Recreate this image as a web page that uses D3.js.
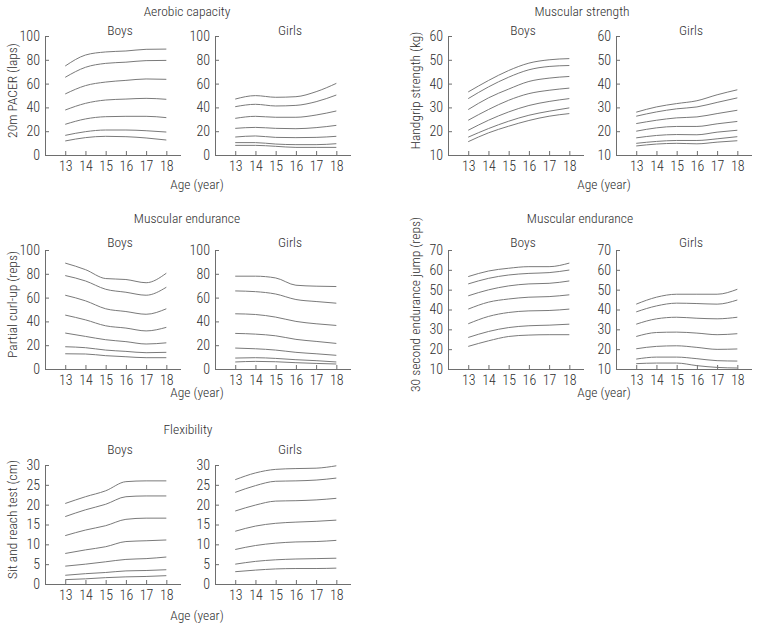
<!DOCTYPE html>
<html><head><meta charset="utf-8">
<script src="https://cdn.jsdelivr.net/npm/d3@7"></script>
<style>
body{margin:0;background:#fff;}
svg text{font-family:"Roboto Condensed","DejaVu Sans Condensed",sans-serif;font-weight:300;fill:#2e2e2e;}
</style></head><body>
<svg id="c" width="758" height="629"></svg>
<script>
// ---- data ----
const ages = [13, 14, 15, 16, 17, 18];
const xTicks = [13, 14, 15, 16, 17, 18];
const ticksAerobic = [0, 20, 40, 60, 80, 100];
const ticksStrength = [10, 20, 30, 40, 50, 60];
const ticksEndurance = [0, 20, 40, 60, 80, 100];
const ticksJump = [10, 20, 30, 40, 50, 60, 70];
const ticksFlex = [0, 5, 10, 15, 20, 25, 30];

const aerobicBoys = [
  [74.8, 84.0, 86.6, 87.4, 88.8, 89.0],
  [65.3, 73.7, 77.0, 78.0, 79.3, 79.5],
  [51.3, 58.3, 61.3, 62.7, 63.9, 63.6],
  [37.8, 43.4, 46.2, 47.0, 47.6, 46.8],
  [25.8, 30.3, 32.2, 32.5, 32.5, 31.4],
  [16.5, 19.6, 21.0, 21.0, 20.4, 19.3],
  [11.8, 14.6, 15.7, 15.4, 14.3, 12.6]
];
const aerobicGirls = [
  [47.0, 49.9, 48.5, 49.0, 53.2, 60.2],
  [40.6, 42.6, 41.2, 41.7, 44.8, 50.4],
  [30.8, 32.5, 31.7, 31.7, 33.6, 37.0],
  [22.4, 23.2, 22.4, 22.1, 23.0, 24.9],
  [15.1, 16.0, 14.8, 14.6, 14.8, 15.7],
  [10.4, 10.4, 9.2, 8.7, 8.7, 9.5],
  [8.1, 8.1, 7.3, 6.4, 6.4, 6.4]
];
const strengthBoys = [
  [36.5, 41.3, 45.5, 48.6, 50.0, 50.5],
  [33.7, 38.6, 42.7, 45.8, 47.2, 47.6],
  [29.1, 34.0, 37.7, 40.9, 42.3, 43.0],
  [24.6, 29.1, 33.0, 35.8, 37.2, 38.1],
  [20.4, 24.6, 28.1, 30.8, 32.5, 33.7],
  [17.5, 21.1, 24.2, 26.7, 28.4, 29.8],
  [15.6, 19.3, 22.1, 24.5, 26.3, 27.4]
];
const strengthGirls = [
  [28.0, 30.2, 31.6, 32.8, 35.3, 37.4],
  [26.3, 28.1, 29.4, 30.2, 32.1, 34.0],
  [23.2, 24.6, 25.6, 26.0, 27.4, 28.8],
  [20.0, 21.4, 22.0, 22.0, 23.1, 24.1],
  [17.2, 18.2, 18.6, 18.5, 19.6, 20.4],
  [14.9, 15.7, 16.1, 16.1, 16.8, 17.7],
  [13.8, 14.6, 14.9, 14.7, 15.4, 16.0]
];
const curlBoys = [
  [89.0, 83.5, 76.0, 75.2, 72.5, 80.5],
  [78.5, 74.0, 67.0, 64.5, 62.0, 68.7],
  [62.0, 57.3, 50.6, 48.3, 46.0, 50.6],
  [45.3, 41.3, 36.3, 34.4, 32.0, 35.0],
  [30.2, 27.4, 24.6, 23.0, 21.0, 22.0],
  [18.7, 17.9, 15.9, 14.8, 13.7, 14.0],
  [12.8, 12.6, 11.2, 10.3, 9.5, 9.5]
];
const curlGirls = [
  [78.0, 78.0, 76.5, 70.4, 69.6, 69.3],
  [65.6, 65.0, 63.0, 58.4, 56.7, 55.3],
  [46.4, 45.8, 43.6, 40.0, 38.0, 36.6],
  [29.9, 29.3, 27.9, 24.9, 23.2, 21.5],
  [17.6, 17.0, 15.9, 14.0, 12.8, 11.5],
  [9.2, 9.5, 8.9, 7.8, 7.0, 5.9],
  [5.9, 6.4, 6.1, 5.3, 4.7, 4.2]
];
const jumpBoys = [
  [56.6, 59.4, 60.8, 61.6, 61.6, 63.4],
  [52.9, 55.7, 57.4, 58.2, 58.6, 59.9],
  [46.9, 49.9, 51.9, 52.9, 53.2, 54.4],
  [40.2, 43.7, 45.3, 46.2, 46.5, 47.4],
  [32.8, 36.5, 38.5, 39.3, 39.5, 40.2],
  [25.9, 28.9, 30.9, 31.8, 32.1, 32.6],
  [21.4, 24.2, 26.4, 27.1, 27.3, 27.3]
];
const jumpGirls = [
  [42.7, 46.2, 47.7, 47.7, 47.7, 50.2],
  [38.8, 41.8, 43.2, 43.0, 42.7, 44.8],
  [32.6, 35.3, 36.1, 35.6, 35.3, 36.1],
  [26.4, 28.4, 28.6, 28.1, 27.3, 27.8],
  [20.2, 21.4, 21.7, 20.9, 19.9, 20.1],
  [15.0, 16.0, 16.0, 15.2, 14.2, 14.0],
  [12.7, 13.0, 13.0, 11.7, 10.8, 10.5]
];
const flexBoys = [
  [20.3, 22.0, 23.5, 25.8, 26.0, 26.0],
  [17.0, 18.7, 20.1, 22.0, 22.2, 22.2],
  [12.2, 13.6, 14.7, 16.3, 16.6, 16.6],
  [7.7, 8.6, 9.4, 10.7, 10.9, 11.1],
  [4.5, 5.0, 5.6, 6.2, 6.4, 6.8],
  [2.2, 2.6, 2.9, 3.3, 3.4, 3.6],
  [1.1, 1.3, 1.6, 1.8, 1.9, 2.1]
];
const flexGirls = [
  [26.3, 28.0, 28.9, 29.1, 29.2, 29.8],
  [23.1, 24.8, 25.9, 26.0, 26.2, 26.7],
  [18.4, 19.9, 20.9, 21.0, 21.2, 21.6],
  [13.3, 14.6, 15.3, 15.6, 15.8, 16.1],
  [8.7, 9.7, 10.3, 10.6, 10.7, 11.0],
  [5.0, 5.7, 6.1, 6.3, 6.4, 6.5],
  [3.1, 3.5, 3.8, 3.9, 3.9, 4.0]
];

// ---- layout ----
const svg = d3.select("#c");
const ROWS = [
  {top: 36, bottom: 155, subY: 35, ageY: 189},
  {top: 250, bottom: 369, subY: 247, ageY: 397},
  {top: 465, bottom: 584, subY: 454, ageY: 620}
];
const panels = [
  {data: aerobicBoys, ax: 45, row: 0, dom: [0, 100], ticks: ticksAerobic, sub: "Boys", ylab: "20m PACER (laps)"},
  {data: aerobicGirls, ax: 215, row: 0, dom: [0, 100], ticks: ticksAerobic, sub: "Girls"},
  {data: strengthBoys, ax: 448, row: 0, dom: [10, 60], ticks: ticksStrength, sub: "Boys", ylab: "Handgrip strength (kg)"},
  {data: strengthGirls, ax: 616, row: 0, dom: [10, 60], ticks: ticksStrength, sub: "Girls"},
  {data: curlBoys, ax: 45, row: 1, dom: [0, 100], ticks: ticksEndurance, sub: "Boys", ylab: "Partial curl-up (reps)"},
  {data: curlGirls, ax: 215, row: 1, dom: [0, 100], ticks: ticksEndurance, sub: "Girls"},
  {data: jumpBoys, ax: 448, row: 1, dom: [10, 70], ticks: ticksJump, sub: "Boys", ylab: "30 second endurance jump (reps)"},
  {data: jumpGirls, ax: 616, row: 1, dom: [10, 70], ticks: ticksJump, sub: "Girls"},
  {data: flexBoys, ax: 45, row: 2, dom: [0, 30], ticks: ticksFlex, sub: "Boys", ylab: "Sit and reach test (cm)"},
  {data: flexGirls, ax: 215, row: 2, dom: [0, 30], ticks: ticksFlex, sub: "Girls"}
];
const sections = [
  {t: "Aerobic capacity", x: 187, y: 16},
  {t: "Muscular strength", x: 582, y: 16},
  {t: "Muscular endurance", x: 187, y: 223},
  {t: "Muscular endurance", x: 580, y: 223},
  {t: "Flexibility", x: 188, y: 434}
];
const ageLabels = [
  {x: 197, row: 0}, {x: 604, row: 0}, {x: 197, row: 1}, {x: 604, row: 1}, {x: 197, row: 2}
];

const axisColor = "#6e6e6e";
const lineColor = "#7a7a7a";
const FS = 13.5;

panels.forEach(p => {
  const r = ROWS[p.row];
  const x = d3.scaleLinear().domain([12, 18.7]).range([p.ax, p.ax + 135.5]);
  const y = d3.scaleLinear().domain(p.dom).range([r.bottom, r.top]);
  const g = svg.append("g");

  const ya = g.append("g").attr("transform", `translate(${p.ax},0)`)
    .call(d3.axisLeft(y).tickValues(p.ticks).tickSizeInner(-4).tickSizeOuter(0).tickPadding(5));
  const xa = g.append("g").attr("transform", `translate(0,${r.bottom})`)
    .call(d3.axisBottom(x).tickValues(xTicks).tickFormat(d3.format("d")).tickSizeInner(-4).tickSizeOuter(0).tickPadding(6));
  [ya, xa].forEach(a => {
    a.attr("font-family", null);
    a.selectAll("path,line").attr("stroke", axisColor);
    a.selectAll("text").attr("font-size", 14).style("fill", "#2e2e2e");
  });

  const line = d3.line().x((d, i) => x(ages[i])).y(d => y(d)).curve(d3.curveMonotoneX);
  g.selectAll("path.s").data(p.data).join("path").attr("class", "s")
    .attr("d", line).attr("fill", "none").attr("stroke", lineColor).attr("stroke-width", 1);

  g.append("text").attr("x", p.ax + 75).attr("y", r.subY).attr("text-anchor", "middle")
    .attr("font-size", FS).text(p.sub);

  if (p.ylab) {
    const cy = (r.top + r.bottom) / 2 - 5;
    g.append("text").attr("transform", `translate(${p.ax - 28},${cy}) rotate(-90)`)
      .attr("text-anchor", "middle").attr("font-size", FS).text(p.ylab);
  }
});

sections.forEach(s => {
  svg.append("text").attr("x", s.x).attr("y", s.y).attr("text-anchor", "middle")
    .attr("font-size", FS).text(s.t);
});
ageLabels.forEach(a => {
  svg.append("text").attr("x", a.x).attr("y", ROWS[a.row].ageY).attr("text-anchor", "middle")
    .attr("font-size", FS).text("Age (year)");
});
</script>
</body></html>
